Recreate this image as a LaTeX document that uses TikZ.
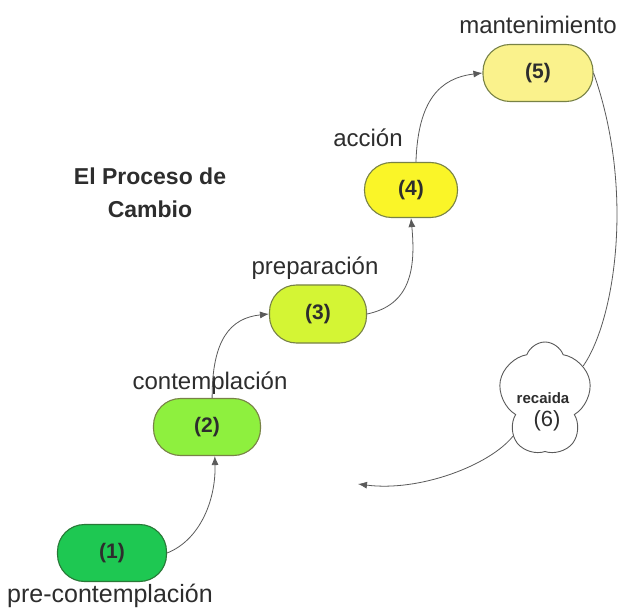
\documentclass[tikz,border=0pt]{standalone}
\usepackage{fontspec}
\setmainfont{Liberation Sans}
\usetikzlibrary{shapes.symbols,arrows.meta}
\definecolor{cone}{RGB}{30,200,82}
\definecolor{ctwo}{RGB}{142,240,62}
\definecolor{cthree}{RGB}{212,245,52}
\definecolor{cfour}{RGB}{250,245,40}
\definecolor{cfive}{RGB}{250,242,140}
\definecolor{bone}{RGB}{40,120,55}
\definecolor{bolive}{RGB}{120,130,70}
\definecolor{txt}{RGB}{45,45,45}
\definecolor{wire}{RGB}{90,90,90}
\tikzset{
  stage/.style={draw, line width=1.1pt, rounded corners=27pt, minimum height=57pt, inner sep=0pt, text=txt, font=\fontsize{21}{21}\selectfont\bfseries},
  stagelabel/.style={inner sep=0pt, text=txt, font=\fontsize{24}{24}\selectfont},
  link/.style={draw=wire, line width=0.8pt, -{Latex[length=9pt,width=7pt]}},
  plainlink/.style={draw=wire, line width=0.8pt}
}
\begin{document}
\begin{tikzpicture}[x=1pt,y=-1pt]
\useasboundingbox[fill=white] (0,0) rectangle (621,612);

% title
\node[align=center, inner sep=0pt, text=txt, font=\fontsize{23}{33}\selectfont\bfseries] (title) at (150,193) {El Proceso de\\Cambio};

% stages
\node[stage, fill=cone, draw=bone, minimum width=109pt] (n1) at (112,553) {(1)};
\node[stage, fill=ctwo, draw=bolive, minimum width=107pt] (n2) at (207,427) {(2)};
\node[stage, fill=cthree, draw=bolive, minimum width=97pt, minimum height=58pt] (n3) at (318,314) {(3)};
\node[stage, fill=cfour, draw=bolive, minimum width=93pt, minimum height=55pt] (n4) at (411,190) {(4)};
\node[stage, fill=cfive, draw=bolive, minimum width=110pt] (n5) at (538,73) {(5)};

% labels
\node[stagelabel, font=\fontsize{25}{25}\selectfont] (l1) at (110,596) {pre-contemplación};
\node[stagelabel] (l2) at (210,383) {contemplación};
\node[stagelabel] (l3) at (315,268) {preparación};
\node[stagelabel] (l4) at (368,138) {acción};
\node[stagelabel] (l5) at (538,25) {mantenimiento};

% relapse cloud
\node[cloud, cloud puffs=5, cloud puff arc=140, cloud ignores aspect, draw=wire, line width=0.9pt, fill=white, minimum width=94pt, minimum height=112pt] (n6) at (545,398) {};
\node[inner sep=0pt, text=txt, font=\fontsize{15}{15}\selectfont\bfseries] (t6a) at (543,398) {recaida};
\node[inner sep=0pt, text=txt, font=\fontsize{22}{22}\selectfont] (t6b) at (547,421) {(6)};

\coordinate (relend) at (358,484);

% connectors
\draw[link] (n1.east) .. controls (200,540) and (216,500) .. (n2.-75);
\draw[link] (n2.80) .. controls (212,340) and (230,318) .. (n3.west);
\draw[link] (n3.east) .. controls (410,305) and (416,270) .. (n4.south);
\draw[link] (n4.80) .. controls (418,100) and (440,78) .. (n5.west);
\draw[plainlink] (n5.east) .. controls (635,190) and (615,320) .. (n6.40);
\draw[link] (n6.-130) .. controls (490,465) and (420,492) .. (relend);
\end{tikzpicture}
\end{document}
